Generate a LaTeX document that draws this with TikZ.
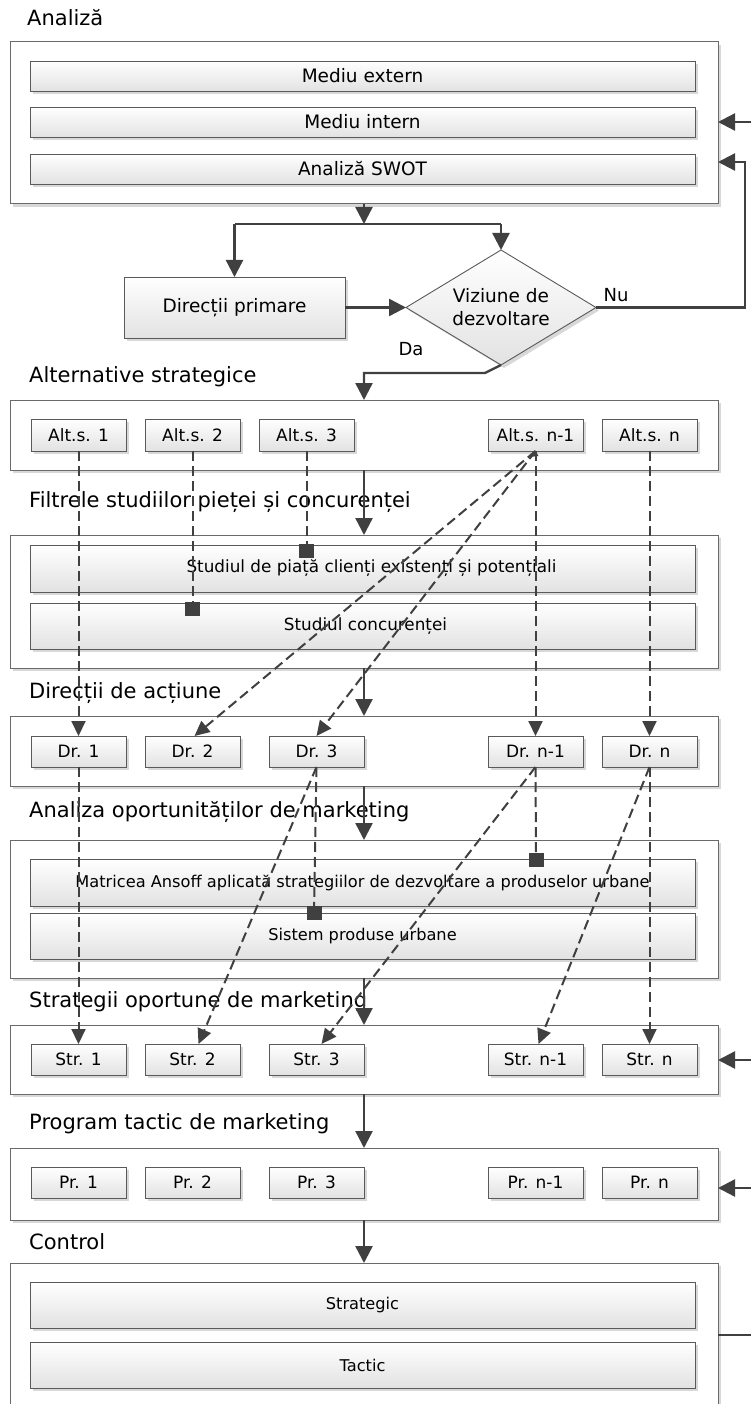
\documentclass[tikz,border=0pt]{standalone}
\usepackage{fontspec}
\setmainfont{DejaVu Sans}
\usetikzlibrary{arrows.meta,shapes.geometric,shadows,calc}

\definecolor{ink}{HTML}{404040}
\definecolor{rim}{HTML}{6A6A6A}
\definecolor{barrim}{HTML}{5A5A5A}
\definecolor{shade}{HTML}{D8D8D8}
\definecolor{barbot}{HTML}{E2E2E2}

\tikzset{
  frame/.style={draw=rim, line width=1pt, fill=white, anchor=north west,
    inner sep=0pt, outer sep=0pt, minimum width=708pt,
    drop shadow={shadow xshift=3pt, shadow yshift=-3pt, fill=shade, opacity=1}},
  bar/.style={draw=barrim, line width=0.9pt, top color=white, bottom color=barbot,
    anchor=north west, inner sep=0pt, outer sep=0pt, minimum width=665pt,
    drop shadow={shadow xshift=3pt, shadow yshift=-3pt, fill=shade, opacity=1}},
  cell/.style={draw=barrim, line width=0.9pt, top color=white, bottom color=barbot,
    anchor=north west, inner sep=0pt, outer sep=0pt, minimum width=95pt, minimum height=31pt,
    font=\fontsize{17}{20}\selectfont,
    drop shadow={shadow xshift=3pt, shadow yshift=-3pt, fill=shade, opacity=1}},
  lbl/.style={anchor=west, inner sep=0pt, font=\fontsize{21}{25}\selectfont},
  bigtxt/.style={font=\fontsize{18.5}{22}\selectfont},
  smalltxt/.style={font=\fontsize{16.2}{19}\selectfont},
  midtxt/.style={font=\fontsize{16.8}{20}\selectfont},
  conn/.style={draw=ink, line width=2.4pt},
  flow/.style={conn, -{Triangle[length=17pt,width=17pt]}},
  dline/.style={draw=ink, line width=2pt, dash pattern=on 10pt off 5pt},
  dflow/.style={dline, -{Triangle[length=15pt,width=14pt]}},
  sqmark/.style={fill=ink, inner sep=0pt, minimum width=15pt, minimum height=14pt},
}

\begin{document}
\begin{tikzpicture}[x=1pt,y=-1pt]
\useasboundingbox (0,0) rectangle (751,1404);
\clip (0,0) rectangle (751,1404);
\fill[white] (0,0) rectangle (751,1404);

% ---------- section titles ----------
\node[lbl] (tA) at (27,18)   {Analiză};
\node[lbl] (tB) at (29,377)  {Alternative strategice};
\node[lbl] (tC) at (29,502)  {Filtrele studiilor pieței și concurenței};
\node[lbl] (tD) at (29,693)  {Direcții de acțiune};
\node[lbl] (tE) at (29,812)  {Analiza oportunităților de marketing};
\node[lbl] (tF) at (29,1002) {Strategii oportune de marketing};
\node[lbl] (tG) at (29,1124) {Program tactic de marketing};
\node[lbl] (tH) at (29,1242) {Control};

% ---------- group frames ----------
\node[frame, minimum height=162pt] (fA) at (10,42)   {};
\node[frame, minimum height=70pt]  (fB) at (10,400)  {};
\node[frame, minimum height=133pt] (fC) at (10,535)  {};
\node[frame, minimum height=70pt]  (fD) at (10,716)  {};
\node[frame, minimum height=138pt] (fE) at (10,840)  {};
\node[frame, minimum height=69pt]  (fF) at (10,1025) {};
\node[frame, minimum height=72pt]  (fG) at (10,1148) {};
\node[frame, minimum height=180pt] (fH) at (10,1263) {};

% ---------- wide bars ----------
\node[bar, bigtxt, minimum height=30pt] (bExt)  at (30,61)  {Mediu extern};
\node[bar, bigtxt, minimum height=30pt] (bInt)  at (30,107) {Mediu intern};
\node[bar, bigtxt, minimum height=30pt] (bSwot) at (30,154) {Analiză SWOT};
\node[bar, midtxt, minimum height=47pt] (bPia)  at (30,545) {\hspace*{18pt}Studiul de piață clienți existenți și potențiali};
\node[bar, midtxt, minimum height=46pt] (bCon)  at (30,603) {\hspace*{6pt}Studiul concurenței};
\node[bar, smalltxt, minimum height=47pt] (bAns) at (30,859) {Matricea Ansoff aplicată strategiilor de dezvoltare a produselor urbane};
\node[bar, smalltxt, minimum height=46pt] (bSis) at (30,913) {Sistem produse urbane};
\node[bar, smalltxt, minimum height=46pt] (bStr) at (30,1282) {Strategic};
\node[bar, smalltxt, minimum height=46pt] (bTac) at (30,1342) {Tactic};

% ---------- decision part ----------
\node[draw=barrim, line width=0.9pt, top color=white, bottom color=barbot,
      anchor=north west, inner sep=0pt, outer sep=0pt,
      minimum width=221pt, minimum height=61pt, bigtxt,
      drop shadow={shadow xshift=3pt, shadow yshift=-3pt, fill=shade, opacity=1}]
      (prim) at (124,277) {Direcții primare};
\node[diamond, draw=barrim, line width=0.9pt, top color=white, bottom color=barbot,
      inner sep=0pt, outer sep=0pt, minimum width=190pt, minimum height=115pt,
      drop shadow={shadow xshift=3pt, shadow yshift=-3pt, fill=shade, opacity=1}]
      (dz) at (501,307.5) {};
\node[align=center, font=\fontsize{18.5}{23}\selectfont] (dzt) at (501,307) {Viziune de\\dezvoltare};
\node[font=\fontsize{18}{21}\selectfont] (nu) at (616,295) {Nu};
\node[font=\fontsize{18}{21}\selectfont] (da) at (411,349) {Da};

% ---------- small boxes ----------
\node[cell, minimum height=32pt] (alt1) at (31,419)  {Alt.s. 1};
\node[cell, minimum height=32pt] (alt2) at (145,419) {Alt.s. 2};
\node[cell, minimum height=32pt] (alt3) at (259,419) {Alt.s. 3};
\node[cell, minimum height=32pt] (altm) at (488,419) {Alt.s. n-1};
\node[cell, minimum height=32pt] (altn) at (602,419) {Alt.s. n};

\node[cell] (dr1) at (31,736)  {Dr. 1};
\node[cell] (dr2) at (145,736) {Dr. 2};
\node[cell] (dr3) at (269,736) {Dr. 3};
\node[cell] (drm) at (488,736) {Dr. n-1};
\node[cell] (drn) at (602,736) {Dr. n};

\node[cell] (st1) at (31,1044)  {Str. 1};
\node[cell] (st2) at (145,1044) {Str. 2};
\node[cell] (st3) at (269,1044) {Str. 3};
\node[cell] (stm) at (488,1044) {Str. n-1};
\node[cell] (stn) at (602,1044) {Str. n};

\node[cell] (pr1) at (31,1167)  {Pr. 1};
\node[cell] (pr2) at (145,1167) {Pr. 2};
\node[cell] (pr3) at (269,1167) {Pr. 3};
\node[cell] (prm) at (488,1167) {Pr. n-1};
\node[cell] (prn) at (602,1167) {Pr. n};

% ---------- main flow ----------
\coordinate (split) at (364,224);
\draw[flow] (fA.south) -- (split);
\draw[conn] (prim.north |- split) -- (dz.north |- split);
\draw[flow] (prim.north |- split) -- (prim.north);
\draw[flow] (dz.north |- split) -- (dz.north);
\draw[flow] (prim.east) -- (dz.west);
\coordinate (loop) at (745,162);
\draw[flow] (dz.east) -| (loop) -- (loop -| fA.east);
\coordinate (inA) at (760,122);
\draw[flow] (inA) -- (inA -| fA.east);
\draw[flow] (dz.south) -- ++(-16,8) -| (fB.north);
\draw[flow] (fB.south) -- (fC.north);
\draw[flow] (fC.south) -- (fD.north);
\draw[flow] (fD.south) -- (fE.north);
\draw[flow] (fE.south) -- (fF.north);
\draw[flow] (fF.south) -- (fG.north);
\draw[flow] (fG.south) -- (fH.north);
\coordinate (inF) at (760,1060);
\coordinate (inG) at (760,1188);
\coordinate (outH) at (760,1335);
\draw[flow] (inF) -- (inF -| fF.east);
\draw[flow] (inG) -- (inG -| fG.east);
\draw[conn] (outH -| fH.east) -- (outH);

% ---------- filter markers ----------
\node[sqmark] (sq1) at (192.5,609) {};
\node[sqmark] (sq2) at (306.5,550.5) {};
\node[sqmark] (sq3) at (536,860) {};
\node[sqmark] (sq4) at (314,913) {};

% ---------- dashed links ----------
\draw[dflow] (alt1.south) -- (dr1.north);
\draw[dline] (alt2.south) -- (sq1.center);
\draw[dline] (alt3.south) -- (sq2.center);
\draw[dflow] (altm.south) -- (drm.north);
\draw[dflow] (altm.south) -- ($(dr2.north)+(2,0)$);
\draw[dflow] (altm.south) -- (dr3.north);
\draw[dflow] (altn.south) -- (drn.north);
\fill[ink] (altm.south) -- ++(-6,6) -- ++(9,-1) -- cycle;

\draw[dflow] (dr1.south) -- (st1.north);
\draw[dline] (dr3.south) -- (sq4.center);
\draw[dflow] (dr3.south) -- ($(st2.north)+(6,0)$);
\draw[dline] (drm.south) -- (sq3.center);
\draw[dflow] (drm.south) -- ($(st3.north)+(5,0)$);
\draw[dflow] (drn.south) -- ($(stm.north)+(3,0)$);
\draw[dflow] (drn.south) -- (stn.north);

% markers on top of the lines
\node[sqmark] at (sq1) {};
\node[sqmark] at (sq2) {};
\node[sqmark] at (sq3) {};
\node[sqmark] at (sq4) {};
\end{tikzpicture}
\end{document}
